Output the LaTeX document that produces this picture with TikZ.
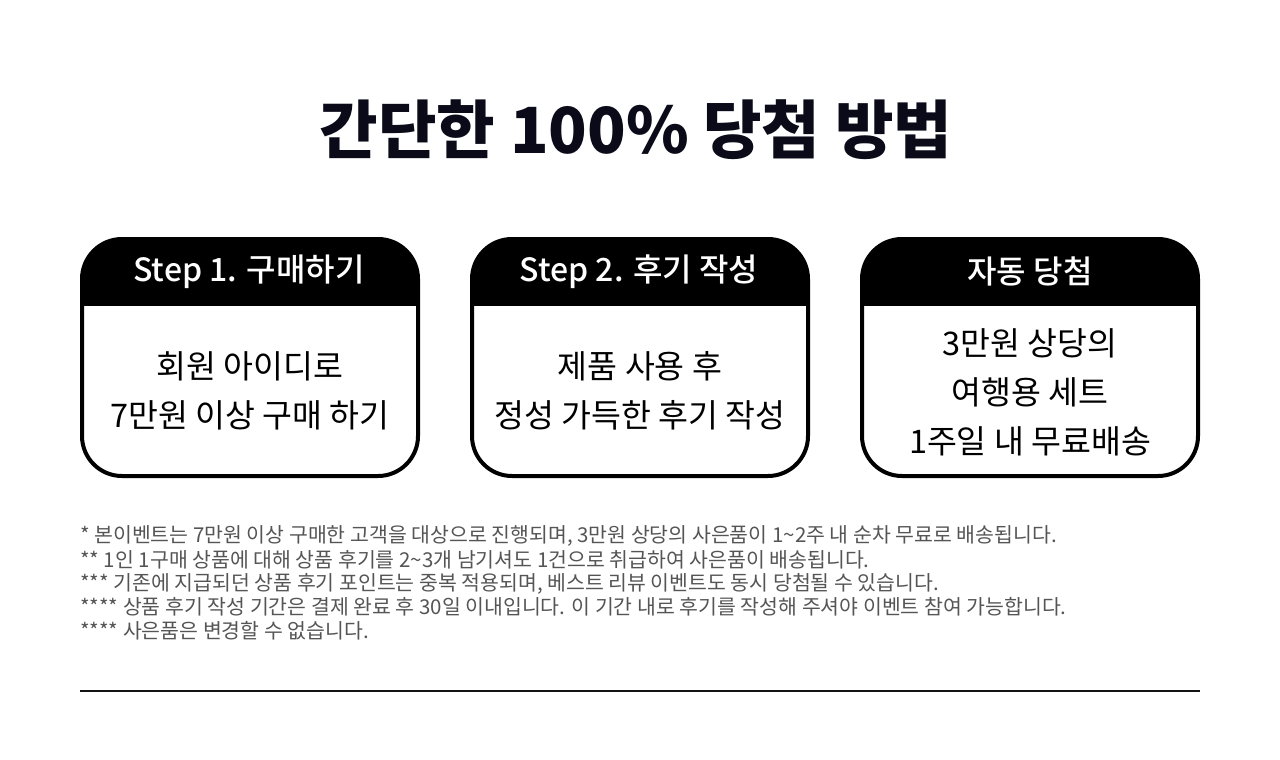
\documentclass[tikz,border=0pt]{standalone}
\usepackage{fontspec}
\setmainfont{Noto Sans CJK KR}
\newfontfamily\titlefont{Noto Sans CJK KR Black}
\newfontfamily\headfont{Noto Sans CJK KR Medium}
\definecolor{titleink}{HTML}{0A0A18}
\definecolor{noteink}{HTML}{555555}
\tikzset{
  stepbox/.style={draw=black, line width=4pt, rounded corners=40pt, minimum width=336pt, minimum height=237pt,
    inner sep=0pt, path picture={\fill[black, sharp corners] (path picture bounding box.north west) rectangle ([yshift=-67pt]path picture bounding box.north east);}},
  headtxt/.style={text=white, font=\headfont\fontsize{32}{38}\selectfont, inner sep=0pt},
  bodytxt/.style={text=black, font=\fontsize{32.5}{49}\selectfont, align=center, inner sep=0pt},
  notetxt/.style={text=noteink, font=\fontsize{20.5}{24}\selectfont, anchor=west, inner sep=0pt},
}
\begin{document}
\begin{tikzpicture}[x=1pt,y=-1pt]
\useasboundingbox (0,0) rectangle (1280,760);
\node[text=titleink, font=\titlefont\fontsize{63.6}{76}\selectfont, inner sep=0pt] (title) at (636,130) {간단한 100\% 당첨 방법};

\node[stepbox] (b1) at (250,357.5) {};
\node[stepbox] (b2) at (640,357.5) {};
\node[stepbox] (b3) at (1030,357.5) {};

\node[headtxt] (h1) at (249,272) {Step 1. 구매하기};
\node[headtxt] (h2) at (639,272) {Step 2. 후기 작성};
\node[headtxt] (h3) at (1030,271) {자동 당첨};

\node[bodytxt] (t1) at (250,391) {회원 아이디로\\7만원 이상 구매 하기};
\node[bodytxt] (t2) at (640,391) {제품 사용 후\\정성 가득한 후기 작성};
\node[bodytxt] (t3) at (1030,392) {3만원 상당의\\여행용 세트\\1주일 내 무료배송};

\node[notetxt] (f1) at (80,536) {* 본이벤트는 7만원 이상 구매한 고객을 대상으로 진행되며, 3만원 상당의 사은품이 1\textasciitilde 2주 내 순차 무료로 배송됩니다.};
\node[notetxt] (f2) at (80,559.5) {** 1인 1구매 상품에 대해 상품 후기를 2\textasciitilde 3개 남기셔도 1건으로 취급하여 사은품이 배송됩니다.};
\node[notetxt] (f3) at (80,583.5) {*** 기존에 지급되던 상품 후기 포인트는 중복 적용되며, 베스트 리뷰 이벤트도 동시 당첨될 수 있습니다.};
\node[notetxt] (f4) at (80,607) {**** 상품 후기 작성 기간은 결제 완료 후 30일 이내입니다. 이 기간 내로 후기를 작성해 주셔야 이벤트 참여 가능합니다.};
\node[notetxt] (f5) at (80,631) {**** 사은품은 변경할 수 없습니다.};

\coordinate (rl) at (80,690.5);
\coordinate (rr) at (1200,690.5);
\draw[line width=2pt, black!92] (rl) -- (rr);
\end{tikzpicture}
\end{document}
